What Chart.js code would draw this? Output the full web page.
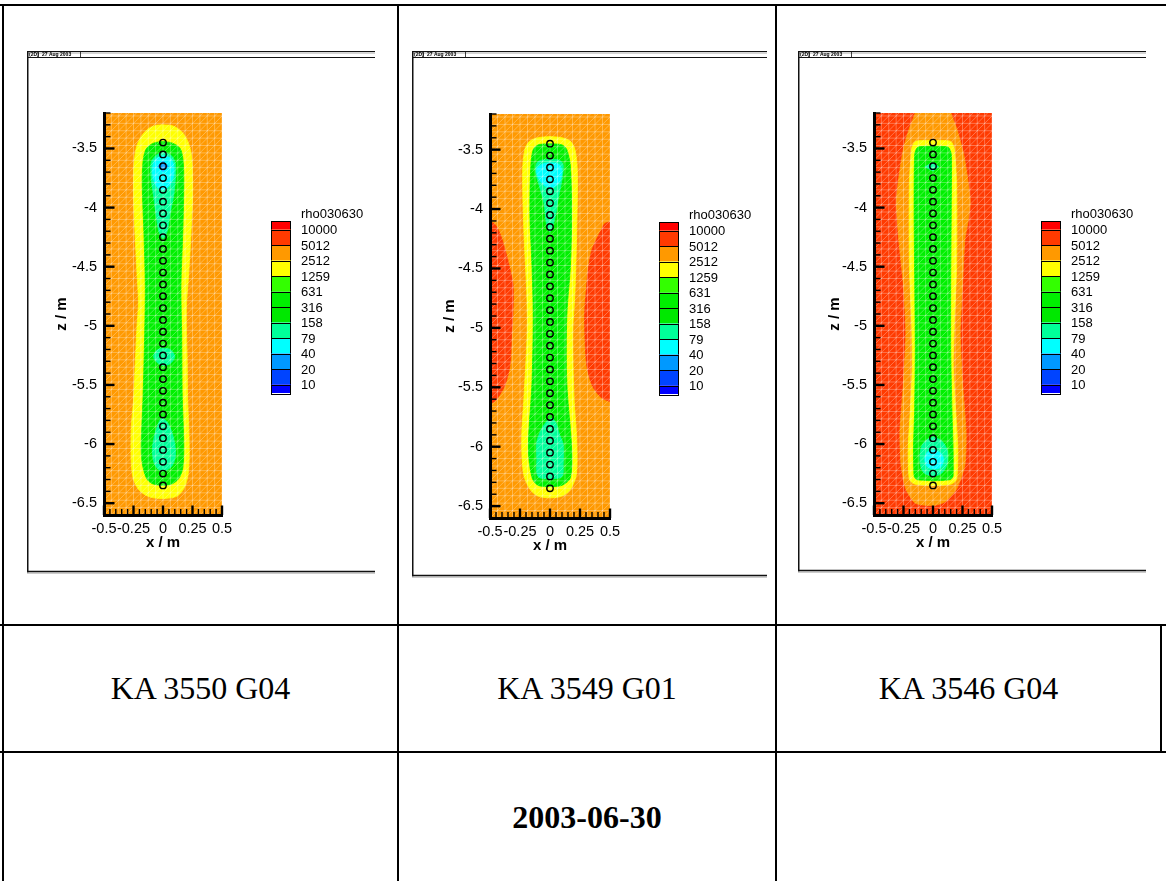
<!DOCTYPE html>
<html><head><meta charset="utf-8">
<script src="https://cdn.jsdelivr.net/npm/chart.js"></script>
<style>
html,body{margin:0;padding:0;background:#fff;}
#page{position:relative;width:1166px;height:881px;overflow:hidden;background:#fff;}
.ln{position:absolute;background:#000;}
.cell{position:absolute;display:flex;align-items:center;justify-content:center;font-family:"Liberation Serif","Times New Roman",serif;font-size:32px;color:#000;white-space:nowrap;}
canvas{position:absolute;}
</style></head><body>
<div id="page">
  <div class="ln" style="left:0;top:4px;width:1166px;height:2px"></div>
  <div class="ln" style="left:2px;top:4px;width:2px;height:877px"></div>
  <div class="ln" style="left:397px;top:4px;width:2px;height:877px"></div>
  <div class="ln" style="left:775px;top:4px;width:2px;height:877px"></div>
  <div class="ln" style="left:0;top:624px;width:1166px;height:2px"></div>
  <div class="ln" style="left:0;top:751px;width:1166px;height:2px"></div>
  <div class="ln" style="left:1160px;top:625px;width:1.5px;height:127px"></div>

  <canvas id="c1" width="348" height="524" style="left:27px;top:50px"></canvas>
  <canvas id="c2" width="355" height="528" style="left:412px;top:50px"></canvas>
  <canvas id="c3" width="348" height="523" style="left:798px;top:50px"></canvas>

  <div class="cell" id="t1" style="left:4px;top:626px;width:393px;height:125px"></div>
  <div class="cell" id="t2" style="left:399px;top:626px;width:376px;height:125px"></div>
  <div class="cell" id="t3" style="left:777px;top:626px;width:383px;height:125px"></div>
  <div class="cell" id="t4" style="left:399px;top:753px;width:376px;height:128px;font-weight:bold"></div>
</div>
<script>
// ---------- text / labels ----------
const boreholeNames = ['KA 3550 G04', 'KA 3549 G01', 'KA 3546 G04'];
const dateLabel = '2003-06-30';
const legendTitle = 'rho030630';
const headerTexts = ['(2D)', '27 Aug 2003'];
const xTitle = 'x / m';
const yTitle = 'z / m';

// ---------- contour levels (top of legend first) ----------
const levelLabels = ['10000','5012','2512','1259','631','316','158','79','40','20','10'];
const levelColors = ['#FF0000','#FF3A00','#FF9900','#FFFF00','#33FF00','#00F000','#00E800','#00FF99','#00FFFF','#0099FF','#0044FF','#0000FF'];

// ---------- axes ----------
const xTickValues = [-0.5, -0.25, 0, 0.25, 0.5];
const xTickLabels = ['-0.5', '-0.25', '0', '0.25', '0.5'];
const xMinorTicks = [-0.45,-0.4,-0.35,-0.3,-0.2,-0.15,-0.1,-0.05,0.05,0.1,0.15,0.2,0.3,0.35,0.4,0.45];
const yTickValues = [-3.5, -4, -4.5, -5, -5.5, -6, -6.5];
const yTickLabels = ['-3.5', '-4', '-4.5', '-5', '-5.5', '-6', '-6.5'];
const yMinorTicks = [-3.2,-3.3,-3.4,-3.6,-3.7,-3.8,-3.9,-4.1,-4.2,-4.3,-4.4,-4.6,-4.7,-4.8,-4.9,-5.1,-5.2,-5.3,-5.4,-5.6,-5.7,-5.8,-5.9,-6.1,-6.2,-6.3,-6.4];
const xRange = [-0.5, 0.5];
const zRange = [-6.6, -3.2];

// ---------- electrodes ----------
const electrodeX = 0;
const electrodeZ = [-3.45,-3.55,-3.65,-3.75,-3.85,-3.95,-4.05,-4.15,-4.25,-4.35,-4.45,-4.55,-4.65,-4.75,-4.85,-4.95,-5.05,-5.15,-5.25,-5.35,-5.45,-5.55,-5.65,-5.75,-5.85,-5.95,-6.05,-6.15,-6.25,-6.35];

// ---------- contour boundaries [x, z] ----------
const plotBox = [[-0.55,-3.1],[0.55,-3.1],[0.55,-6.7],[-0.55,-6.7]];

// panel 1: KA 3550 G04
const p1Yellow = [[0,-3.30],[0.085,-3.31],[0.16,-3.36],[0.21,-3.44],[0.24,-3.55],[0.25,-3.72],[0.25,-3.93],[0.24,-4.15],[0.23,-4.35],[0.215,-4.6],[0.2,-4.8],[0.198,-5.0],[0.205,-5.3],[0.208,-5.6],[0.218,-5.85],[0.222,-6.1],[0.212,-6.26],[0.18,-6.37],[0.12,-6.44],[0.02,-6.46],[-0.08,-6.455],[-0.15,-6.43],[-0.21,-6.38],[-0.255,-6.28],[-0.27,-6.12],[-0.268,-5.85],[-0.25,-5.63],[-0.234,-5.3],[-0.22,-5.0],[-0.208,-4.8],[-0.218,-4.6],[-0.233,-4.3],[-0.248,-3.95],[-0.247,-3.65],[-0.225,-3.49],[-0.185,-3.40],[-0.12,-3.33],[-0.06,-3.305]];
const p1Green = [[0,-3.44],[0.08,-3.455],[0.145,-3.5],[0.17,-3.6],[0.176,-3.8],[0.168,-4.2],[0.152,-4.66],[0.158,-5.06],[0.163,-5.6],[0.176,-6.0],[0.168,-6.2],[0.135,-6.29],[0.08,-6.335],[0,-6.35],[-0.09,-6.335],[-0.14,-6.29],[-0.178,-6.15],[-0.185,-6.0],[-0.17,-5.63],[-0.155,-5.06],[-0.15,-4.66],[-0.162,-4.2],[-0.176,-3.8],[-0.168,-3.6],[-0.14,-3.5],[-0.08,-3.455]];
const p1AquaTop = [[0,-3.53],[0.07,-3.56],[0.105,-3.63],[0.105,-3.75],[0.09,-3.9],[0.06,-4.05],[0.035,-4.2],[0,-4.26],[-0.035,-4.2],[-0.06,-4.05],[-0.08,-3.9],[-0.1,-3.75],[-0.1,-3.62],[-0.06,-3.56]];
const p1CyanTop = [[0,-3.56],[0.06,-3.58],[0.09,-3.64],[0.088,-3.74],[0.05,-3.82],[0,-3.85],[-0.055,-3.82],[-0.088,-3.72],[-0.08,-3.62],[-0.05,-3.58]];
const p1BlueSpot = [[0,-3.605],[0.045,-3.65],[0,-3.695],[-0.045,-3.65]];
const p1AquaMid = [[0,-5.19],[0.06,-5.2],[0.1,-5.26],[0.06,-5.32],[0,-5.335],[-0.05,-5.31],[-0.08,-5.26],[-0.05,-5.205]];
const p1AquaBot = [[0,-5.78],[0.04,-5.82],[0.075,-5.9],[0.1,-6.0],[0.105,-6.1],[0.08,-6.18],[0.03,-6.22],[-0.03,-6.22],[-0.075,-6.16],[-0.09,-6.05],[-0.07,-5.92],[-0.04,-5.83],[-0.02,-5.79]];

// panel 2: KA 3549 G01
const p2RedLeft = [[-0.55,-4.1],[-0.47,-4.12],[-0.42,-4.2],[-0.375,-4.34],[-0.335,-4.5],[-0.308,-4.64],[-0.31,-4.9],[-0.32,-5.05],[-0.333,-5.31],[-0.375,-5.48],[-0.43,-5.58],[-0.47,-5.625],[-0.55,-5.63]];
const p2RedRight = [[0.55,-4.1],[0.46,-4.12],[0.43,-4.17],[0.39,-4.25],[0.347,-4.35],[0.32,-4.5],[0.306,-4.64],[0.29,-4.85],[0.29,-5.03],[0.306,-5.31],[0.35,-5.48],[0.41,-5.57],[0.46,-5.605],[0.55,-5.62]];
const p2Yellow = [[0,-3.39],[0.1,-3.40],[0.17,-3.43],[0.208,-3.5],[0.228,-3.69],[0.222,-4.2],[0.208,-4.7],[0.19,-5.03],[0.2,-5.59],[0.222,-5.93],[0.22,-6.23],[0.17,-6.36],[0.1,-6.415],[0,-6.43],[-0.1,-6.415],[-0.165,-6.36],[-0.22,-6.23],[-0.236,-5.93],[-0.217,-5.59],[-0.19,-5.03],[-0.194,-4.7],[-0.217,-4.2],[-0.228,-3.69],[-0.21,-3.5],[-0.17,-3.43],[-0.1,-3.40]];
const p2Green = [[0,-3.45],[0.1,-3.46],[0.14,-3.5],[0.17,-3.64],[0.18,-4.06],[0.17,-4.48],[0.14,-4.9],[0.14,-5.46],[0.18,-6.01],[0.17,-6.26],[0.1,-6.325],[0,-6.335],[-0.1,-6.325],[-0.15,-6.26],[-0.18,-6.01],[-0.15,-5.46],[-0.14,-4.9],[-0.15,-4.48],[-0.167,-4.06],[-0.16,-3.64],[-0.14,-3.5],[-0.1,-3.46]];
const p2AquaTop = [[0,-3.58],[0.08,-3.59],[0.11,-3.63],[0.1,-3.75],[0.07,-3.9],[0.04,-4.08],[0,-4.19],[-0.03,-4.12],[-0.05,-3.95],[-0.09,-3.8],[-0.12,-3.68],[-0.1,-3.6]];
const p2CyanTop = [[0,-3.61],[0.07,-3.62],[0.1,-3.68],[0.08,-3.77],[0.04,-3.81],[0,-3.82],[-0.05,-3.8],[-0.1,-3.73],[-0.11,-3.66],[-0.06,-3.62]];
const p2AquaBot = [[0.02,-5.76],[0.05,-5.8],[0.08,-5.9],[0.11,-5.98],[0.11,-6.15],[0.1,-6.25],[0,-6.27],[-0.1,-6.25],[-0.11,-6.1],[-0.11,-5.96],[-0.07,-5.85],[-0.02,-5.78]];

// panel 3: KA 3546 G04
const p3Orange = [[-0.15,-3.1],[0.15,-3.1],[0.152,-3.2],[0.2,-3.33],[0.26,-3.55],[0.3,-3.8],[0.315,-3.95],[0.3,-4.1],[0.27,-4.27],[0.25,-4.66],[0.23,-5.06],[0.25,-5.48],[0.28,-5.9],[0.27,-6.18],[0.2,-6.38],[0.1,-6.49],[0,-6.52],[-0.15,-6.5],[-0.23,-6.38],[-0.27,-6.18],[-0.28,-5.9],[-0.25,-5.48],[-0.23,-5.06],[-0.25,-4.66],[-0.29,-4.27],[-0.31,-3.95],[-0.29,-3.75],[-0.25,-3.5],[-0.2,-3.33],[-0.152,-3.2]];
const p3Yellow = [[0,-3.43],[0.15,-3.44],[0.18,-3.5],[0.2,-3.79],[0.2,-4.5],[0.18,-5.0],[0.172,-5.34],[0.19,-5.68],[0.21,-6.04],[0.2,-6.3],[0.15,-6.34],[0,-6.35],[-0.15,-6.34],[-0.2,-6.3],[-0.21,-6.04],[-0.19,-5.68],[-0.175,-5.34],[-0.18,-5.0],[-0.2,-4.5],[-0.2,-3.79],[-0.18,-3.5],[-0.15,-3.44]];
const p3Green = [[0,-3.48],[0.13,-3.49],[0.155,-3.55],[0.155,-4.0],[0.15,-4.6],[0.15,-5.2],[0.16,-5.7],[0.17,-6.04],[0.17,-6.27],[0.15,-6.3],[0,-6.31],[-0.14,-6.3],[-0.16,-6.27],[-0.165,-6.04],[-0.155,-5.7],[-0.15,-5.2],[-0.155,-4.6],[-0.16,-4.0],[-0.155,-3.55],[-0.13,-3.49]];
const p3AquaTop = [[0,-3.62],[0.05,-3.655],[0,-3.69],[-0.07,-3.655]];
const p3AquaBot = [[0,-5.94],[0.07,-5.97],[0.12,-6.05],[0.12,-6.17],[0.07,-6.25],[0,-6.27],[-0.08,-6.24],[-0.11,-6.15],[-0.1,-6.03],[-0.06,-5.97]];
const p3CyanBot = [[0.01,-6.05],[0.07,-6.08],[0.09,-6.14],[0.06,-6.2],[0,-6.21],[-0.05,-6.19],[-0.07,-6.13],[-0.05,-6.07]];

// layers per panel: [polygon, level index, tension], bottom layer first
const panel1Layers = [[plotBox,2,0],[p1Yellow,3,0.3],[p1Green,5,0.3],[p1AquaTop,7,0.3],[p1CyanTop,8,0.3],[p1BlueSpot,9,0],[p1AquaMid,7,0.3],[p1AquaBot,7,0.3]];
const panel2Layers = [[plotBox,2,0],[p2RedLeft,1,0.3],[p2RedRight,1,0.3],[p2Yellow,3,0.3],[p2Green,5,0.3],[p2AquaTop,7,0.3],[p2CyanTop,8,0.3],[p2AquaBot,7,0.3]];
const panel3Layers = [[plotBox,1,0],[p3Orange,2,0.2],[p3Yellow,3,0.2],[p3Green,5,0.2],[p3AquaTop,7,0],[p3AquaBot,7,0.3],[p3CyanBot,8,0.3]];

// ---------- page text ----------
document.getElementById('t1').textContent = boreholeNames[0];
document.getElementById('t2').textContent = boreholeNames[1];
document.getElementById('t3').textContent = boreholeNames[2];
document.getElementById('t4').textContent = dateLabel;

const FONT = '"Liberation Sans", Arial, sans-serif';
const MESH_STEP = 0.0625;

function drawMesh(chart) {
  const {ctx, chartArea: a, scales: {x: xs, y: ys}} = chart;
  const dxp = Math.abs(xs.getPixelForValue(MESH_STEP) - xs.getPixelForValue(0));
  const dyp = Math.abs(ys.getPixelForValue(zRange[0] + MESH_STEP) - ys.getPixelForValue(zRange[0]));
  ctx.save();
  ctx.beginPath(); ctx.rect(a.left, a.top, a.right - a.left, a.bottom - a.top); ctx.clip();
  ctx.strokeStyle = 'rgba(255,255,255,0.38)';
  ctx.lineWidth = 0.8;
  ctx.beginPath();
  for (let x = a.left; x <= a.right + 0.5; x += dxp) { ctx.moveTo(x, a.top); ctx.lineTo(x, a.bottom); }
  for (let y = a.bottom; y >= a.top - 0.5; y -= dyp) { ctx.moveTo(a.left, y); ctx.lineTo(a.right, y); }
  const n = Math.ceil((a.bottom - a.top) / dyp) + 1;
  for (let k = -n; k * dxp <= a.right - a.left; k++) {
    const x0 = a.left + k * dxp;
    ctx.moveTo(x0, a.bottom); ctx.lineTo(x0 + n * dxp, a.bottom - n * dyp);
  }
  ctx.stroke();
  ctx.restore();
}

function drawInnerTicks(chart) {
  const {ctx, chartArea: a, scales: {x: xs, y: ys}} = chart;
  ctx.save();
  ctx.strokeStyle = '#000';
  const seg = (x1, y1, x2, y2, w) => { ctx.lineWidth = w; ctx.beginPath(); ctx.moveTo(x1, y1); ctx.lineTo(x2, y2); ctx.stroke(); };
  yMinorTicks.forEach(v => { const y = ys.getPixelForValue(v); seg(a.left, y, a.left + 6.5, y, 1.4); });
  yTickValues.forEach(v => { const y = ys.getPixelForValue(v); seg(a.left, y, a.left + 10.5, y, 2.4); });
  xMinorTicks.forEach(v => { const x = xs.getPixelForValue(v); seg(x, a.bottom, x, a.bottom - 6, 1.4); });
  xTickValues.forEach(v => { const x = xs.getPixelForValue(v); seg(x, a.bottom, x, a.bottom - 9.5, 2.4); });
  ctx.restore();
}

function drawLegend(chart) {
  const {ctx, chartArea: a} = chart;
  const lx = a.right + 49, ly = a.top + 108, bw = 20, step = 15.5, half = 8.5;
  ctx.save();
  const n = levelColors.length;
  for (let i = 0; i < n; i++) {
    let y0, h;
    if (i === 0) { y0 = ly; h = half; }
    else if (i === n - 1) { y0 = ly + half + (n - 2) * step; h = half; }
    else { y0 = ly + half + (i - 1) * step; h = step; }
    ctx.fillStyle = levelColors[i];
    ctx.fillRect(lx, y0, bw, h);
    ctx.strokeStyle = '#000'; ctx.lineWidth = 1;
    ctx.strokeRect(lx + 0.5, Math.round(y0) + 0.5, bw - 1, Math.round(h));
  }
  ctx.fillStyle = '#000';
  ctx.font = '13px ' + FONT;
  ctx.textAlign = 'left'; ctx.textBaseline = 'middle';
  ctx.fillText(legendTitle, lx + bw + 10, ly - 6.5);
  levelLabels.forEach((t, k) => ctx.fillText(t, lx + bw + 10, ly + half + k * step + 1));
  ctx.restore();
}

function drawFrame(chart) {
  const {ctx, width: W, height: H} = chart;
  ctx.save();
  const seg = (x1, y1, x2, y2, w, c) => { ctx.strokeStyle = c; ctx.lineWidth = w; ctx.beginPath(); ctx.moveTo(x1, y1); ctx.lineTo(x2, y2); ctx.stroke(); };
  seg(0, 1.5, W, 1.5, 1, '#111');
  seg(0, 3, W, 3, 1, '#aaa');
  seg(0, 7.5, W, 7.5, 1.2, '#111');
  seg(0.75, 1, 0.75, H - 1.5, 1.5, '#111');
  seg(0, H - 2.5, W, H - 2.5, 1.3, '#111');
  seg(0, H - 1, W, H - 1, 1, '#999');
  seg(11.5, 1.5, 11.5, 7.5, 0.8, '#111');
  seg(53.5, 1.5, 53.5, 7.5, 0.8, '#111');
  ctx.fillStyle = '#000';
  ctx.font = 'bold 5px ' + FONT;
  ctx.textBaseline = 'middle'; ctx.textAlign = 'left';
  ctx.fillText(headerTexts[0], 2, 5);
  ctx.fillText(headerTexts[1], 15, 5);
  ctx.restore();
}

const decorPlugin = {
  id: 'decor',
  beforeDatasetDraw(chart, args) { if (args.index === 0) drawMesh(chart); },
  afterDraw(chart) { drawInnerTicks(chart); drawLegend(chart); drawFrame(chart); }
};

function buildChart(canvasId, layers, g) {
  const datasets = [{
    type: 'line', label: 'electrodes',
    data: electrodeZ.map(z => ({x: electrodeX, y: z})),
    showLine: false, pointStyle: 'circle', pointRadius: 3.2, pointBorderWidth: 1.4,
    pointBorderColor: '#000', pointBackgroundColor: 'rgba(0,0,0,0)', order: 0
  }];
  layers.forEach((ly, i) => {
    const pts = ly[0].map(p => ({x: p[0], y: p[1]}));
    pts.push({x: ly[0][0][0], y: ly[0][0][1]});
    datasets.push({
      type: 'line', indexAxis: 'y', data: pts, fill: 'shape',
      backgroundColor: levelColors[ly[1]], borderColor: levelColors[ly[1]], borderWidth: 0.8,
      pointRadius: 0, pointHitRadius: 0, tension: ly[2], order: layers.length - i + 1
    });
  });
  const canvas = document.getElementById(canvasId);
  const W = canvas.width, H = canvas.height;
  const XH = 55;
  return new Chart(canvas, {
    type: 'line',
    data: {datasets},
    options: {
      responsive: false, animation: false, events: [],
      layout: {padding: {left: 0, top: g.top, right: W - g.right, bottom: H - g.bottom - XH}},
      plugins: {legend: {display: false}, tooltip: {enabled: false}, title: {display: false}},
      scales: {
        x: {
          type: 'linear', position: 'bottom', min: xRange[0], max: xRange[1],
          afterBuildTicks: s => { s.ticks = xTickValues.map(v => ({value: v})); },
          afterFit: s => { s.height = XH; },
          ticks: {autoSkip: false, maxRotation: 0, minRotation: 0, padding: 5, color: '#000',
                  font: {family: FONT, size: 14.5}, callback: (v, i) => xTickLabels[i]},
          grid: {display: false, drawTicks: false},
          border: {display: true, color: '#000', width: 3, z: 1},
          title: {display: true, text: xTitle, color: '#000', font: {family: FONT, size: 15, weight: 'bold'},
                  padding: {top: 0, bottom: 18.5}}
        },
        y: {
          type: 'linear', position: 'left', min: zRange[0], max: zRange[1],
          afterBuildTicks: s => { s.ticks = yTickValues.map(v => ({value: v})); },
          afterFit: s => { s.width = g.left; },
          ticks: {autoSkip: false, padding: 7, color: '#000', font: {family: FONT, size: 14.5},
                  callback: (v, i) => yTickLabels[i]},
          grid: {display: false, drawTicks: false},
          border: {display: true, color: '#000', width: 3, z: 1},
          title: {display: true, text: yTitle, color: '#000', font: {family: FONT, size: 15, weight: 'bold'},
                  padding: {top: g.titleX - 9, bottom: 0}}
        }
      }
    },
    plugins: [decorPlugin]
  });
}

buildChart('c1', panel1Layers, {left: 77, right: 195, top: 63, bottom: 465, titleX: 35});
buildChart('c2', panel2Layers, {left: 78, right: 198, top: 64, bottom: 468, titleX: 38});
buildChart('c3', panel3Layers, {left: 76, right: 194, top: 63, bottom: 465, titleX: 37});
</script>
</body></html>
